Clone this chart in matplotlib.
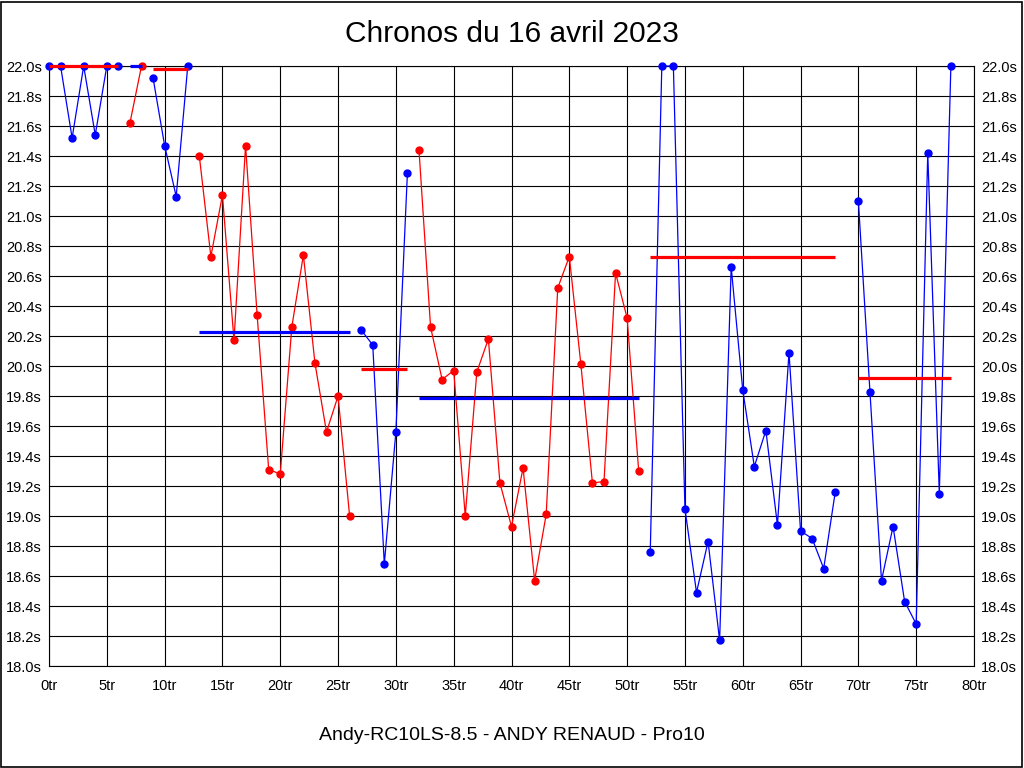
import matplotlib
matplotlib.use('Agg')
import matplotlib.pyplot as plt
from matplotlib.patches import Rectangle
import numpy as np

plt.rcParams['font.family'] = ['Liberation Sans', 'DejaVu Sans']

# stints: first lap, lap times (s), colour of the series, average shown
starts = [0, 7, 9, 13, 27, 32, 52, 70]
times = [
    [22.0, 22.0, 21.52, 22.0, 21.54, 22.0, 22.0],
    [21.62, 22.0],
    [21.92, 21.47, 21.13, 22.0],
    [21.40, 20.73, 21.14, 20.17, 21.47, 20.34, 19.31, 19.28, 20.26, 20.74,
     20.02, 19.56, 19.80, 19.00],
    [20.24, 20.14, 18.68, 19.56, 21.29],
    [21.44, 20.26, 19.91, 19.97, 19.00, 19.96, 20.18, 19.22, 18.93, 19.32,
     18.57, 19.01, 20.52, 20.73, 20.01, 19.22, 19.23, 20.62, 20.32, 19.30],
    [18.76, 22.0, 22.0, 19.05, 18.49, 18.83, 18.17, 20.66, 19.84, 19.33,
     19.57, 18.94, 20.09, 18.90, 18.85, 18.65, 19.16],
    [21.10, 19.83, 18.57, 18.93, 18.43, 18.28, 21.42, 19.15, 22.0],
]
colors = ['blue', 'red', 'blue', 'red', 'blue', 'red', 'blue', 'blue']
averages = [22.0, 22.0, 21.98, 20.23, 19.98, 19.79, 20.73, 19.92]
avg_colors = ['red', 'blue', 'red', 'blue', 'red', 'blue', 'red', 'red']

yticks = np.arange(18.0, 22.01, 0.2)
xticks = np.arange(0, 81, 5)

fig = plt.figure(figsize=(10.24, 7.68), dpi=100)
fig.patches.append(Rectangle((0.001, 0.001), 0.997, 0.997, transform=fig.transFigure,
                             fill=False, edgecolor='black', linewidth=1.2))

ax = fig.add_axes([49 / 1024, 102 / 768, 925 / 1024, 600 / 768])

for s, t, c in zip(starts, times, colors):
    laps = np.arange(s, s + len(t))
    ax.plot(laps, t, color=c, linewidth=0.9, marker='o', markersize=5,
            clip_on=False, zorder=3)

for s, t, a, c in zip(starts, times, averages, avg_colors):
    ax.plot([s, s + len(t) - 1], [a, a], color=c, linewidth=2.3,
            solid_capstyle='butt', clip_on=False, zorder=4)

ax.set_xlim(0, 80)
ax.set_ylim(18, 22)
ax.set_xticks(xticks)
ax.set_xticklabels(['%dtr' % v for v in xticks])
ax.set_yticks(yticks)
ax.set_yticklabels(['%.1fs' % v for v in yticks])
ax.tick_params(length=0, labelsize=10.5, pad=5, labelright=True)
ax.tick_params(axis='x', pad=9)
ax.grid(True, color='black', linewidth=0.8)
ax.set_axisbelow(True)
for sp in ax.spines.values():
    sp.set_color('black')
    sp.set_linewidth(0.8)

fig.text(0.5, 1 - 34 / 768, 'Chronos du 16 avril 2023', ha='center', va='center', fontsize=21.5)
fig.text(0.5, 1 - 735 / 768, 'Andy-RC10LS-8.5 - ANDY RENAUD - Pro10', ha='center', va='center',
         fontsize=14)

fig.savefig('out.png', dpi=100)
